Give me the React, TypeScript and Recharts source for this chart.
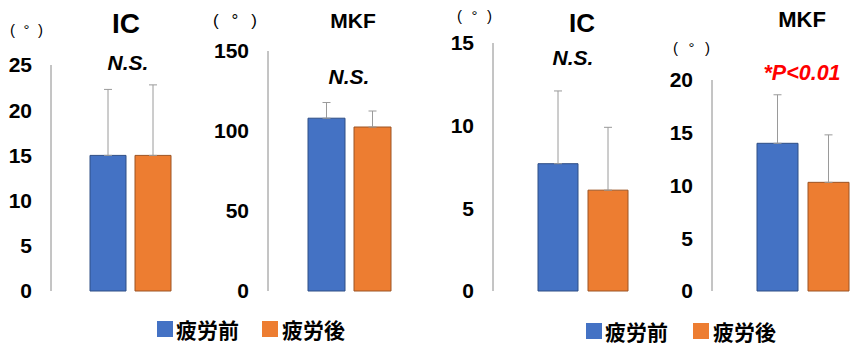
import React from "react";
import { BarChart, Bar, XAxis, YAxis, ErrorBar } from "recharts";

const categories = ["IC", "MKF", "IC", "MKF"];
const seriesNames = ["疲労前", "疲労後"];
const preValues = [15.0, 108, 7.7, 14.0];
const postValues = [15.0, 102.5, 6.1, 10.3];
const preSd = [7.3, 9.8, 4.4, 4.6];
const postSd = [7.8, 10, 3.8, 4.5];
const yMax = [25, 150, 15, 20];
const yTicks = [
  [0, 5, 10, 15, 20, 25],
  [0, 50, 100, 150],
  [0, 5, 10, 15],
  [0, 5, 10, 15, 20],
];
const sigLabels = ["N.S.", "N.S.", "N.S.", "*P<0.01"];
const unitLabel = "(°)";

const BLUE = "#4472C4";
const ORANGE = "#ED7D31";
const AXIS = "#8a8a8a";
const NUM_FONT = "'Liberation Sans', Arial, sans-serif";
const CJK_FONT = "'Noto Sans CJK JP', 'Noto Sans', sans-serif";

// panel geometry (pixels); band is 1px wider than the two bars so the gap survives
const layout = [
  { left: 0, width: 200, top: 65, yw: 51, right: 4, padL: 38, padR: 25, barSize: 36, gap: 9 },
  { left: 200, width: 230, top: 51, yw: 68, right: 7, padL: 39, padR: 32, barSize: 37, gap: 9 },
  { left: 430, width: 230, top: 43, yw: 63, right: 7, padL: 44, padR: 25, barSize: 40, gap: 10 },
  { left: 660, width: 198, top: 80, yw: 52, right: 0, padL: 44, padR: 9, barSize: 41, gap: 10 },
];

const titles = [
  { x: 126, y: 23, size: 28 },
  { x: 353, y: 20, size: 21 },
  { x: 582, y: 23, size: 26 },
  { x: 802, y: 19, size: 22 },
];
const sigPos = [
  { x: 128, y: 62, size: 21, color: "#000" },
  { x: 349, y: 76, size: 21, color: "#000" },
  { x: 573, y: 57, size: 21, color: "#000" },
  { x: 802, y: 73, size: 21.5, color: "#FF0000" },
];
const unitPos = [
  { x: 10, y: 29, w: 33, size: 15 },
  { x: 213, y: 20, w: 44, size: 17 },
  { x: 457, y: 15, w: 35, size: 15 },
  { x: 673, y: 47, w: 37, size: 15 },
];
const legends = [
  { x: 157, y: 329, gap2: 262 },
  { x: 586, y: 331, gap2: 693 },
];

const H = 349;

const Panel = ({ i }: { i: number }) => {
  const l = layout[i];
  const data = [
    {
      name: categories[i],
      pre: preValues[i],
      post: postValues[i],
      preErr: [0, preSd[i]],
      postErr: [0, postSd[i]],
    },
  ];
  return (
    <div style={{ position: "absolute", left: l.left, top: 0 }}>
      <BarChart
        width={l.width}
        height={H}
        data={data}
        margin={{ top: l.top, right: l.right, bottom: 58, left: 0 }}
        barGap={l.gap}
        barCategoryGap={0}
      >
        <XAxis
          dataKey="name"
          height={0}
          tick={false}
          tickLine={false}
          axisLine={{ stroke: AXIS, strokeWidth: 1 }}
          padding={{ left: l.padL, right: l.padR }}
        />
        <YAxis
          width={l.yw}
          domain={[0, yMax[i]]}
          ticks={yTicks[i]}
          interval={0}
          tickLine={false}
          tickSize={0}
          tickMargin={19}
          axisLine={{ stroke: AXIS, strokeWidth: 1 }}
          tick={{ fill: "#000", fontSize: 21, fontWeight: 700, fontFamily: NUM_FONT }}
        />
        <Bar dataKey="pre" name={seriesNames[0]} fill={BLUE} stroke="#2F4E85" strokeWidth={1} barSize={l.barSize} isAnimationActive={false}>
          <ErrorBar dataKey="preErr" width={4} stroke="#9a9a9a" strokeWidth={1} />
        </Bar>
        <Bar dataKey="post" name={seriesNames[1]} fill={ORANGE} stroke="#9C5424" strokeWidth={1} barSize={l.barSize} isAnimationActive={false}>
          <ErrorBar dataKey="postErr" width={4} stroke="#9a9a9a" strokeWidth={1} />
        </Bar>
      </BarChart>
    </div>
  );
};

export default function App() {
  return (
    <div style={{ position: "absolute", left: 0, top: 0, width: 858, height: H, background: "#fff", overflow: "hidden" }}>
      {layout.map((_, i) => (
        <Panel key={i} i={i} />
      ))}
      <svg width={858} height={H} style={{ position: "absolute", left: 0, top: 0, pointerEvents: "none" }}>
        {titles.map((t, i) => (
          <text key={"t" + i} x={t.x} y={t.y} textAnchor="middle" dominantBaseline="central" fontSize={t.size} fontWeight={700} fontFamily={NUM_FONT}>
            {categories[i]}
          </text>
        ))}
        {sigPos.map((s, i) => (
          <text key={"s" + i} x={s.x} y={s.y} textAnchor="middle" dominantBaseline="central" fontSize={s.size} fontWeight={700} fontStyle="italic" fill={s.color} fontFamily={NUM_FONT}>
            {sigLabels[i]}
          </text>
        ))}
        {unitPos.map((u, i) => (
          <text key={"u" + i} x={u.x} y={u.y} dominantBaseline="central" fontSize={u.size} textLength={u.w} lengthAdjust="spacing" fontFamily={NUM_FONT}>
            {unitLabel}
          </text>
        ))}
        {legends.map((g, i) => (
          <g key={"l" + i}>
            <rect x={g.x} y={g.y - 8} width={16} height={16} fill={BLUE} />
            <text x={g.x + 19} y={g.y} dominantBaseline="central" fontSize={21} fontWeight={700} fontFamily={CJK_FONT}>
              {seriesNames[0]}
            </text>
            <rect x={g.gap2} y={g.y - 8} width={16} height={16} fill={ORANGE} />
            <text x={g.gap2 + 20} y={g.y} dominantBaseline="central" fontSize={21} fontWeight={700} fontFamily={CJK_FONT}>
              {seriesNames[1]}
            </text>
          </g>
        ))}
      </svg>
    </div>
  );
}
